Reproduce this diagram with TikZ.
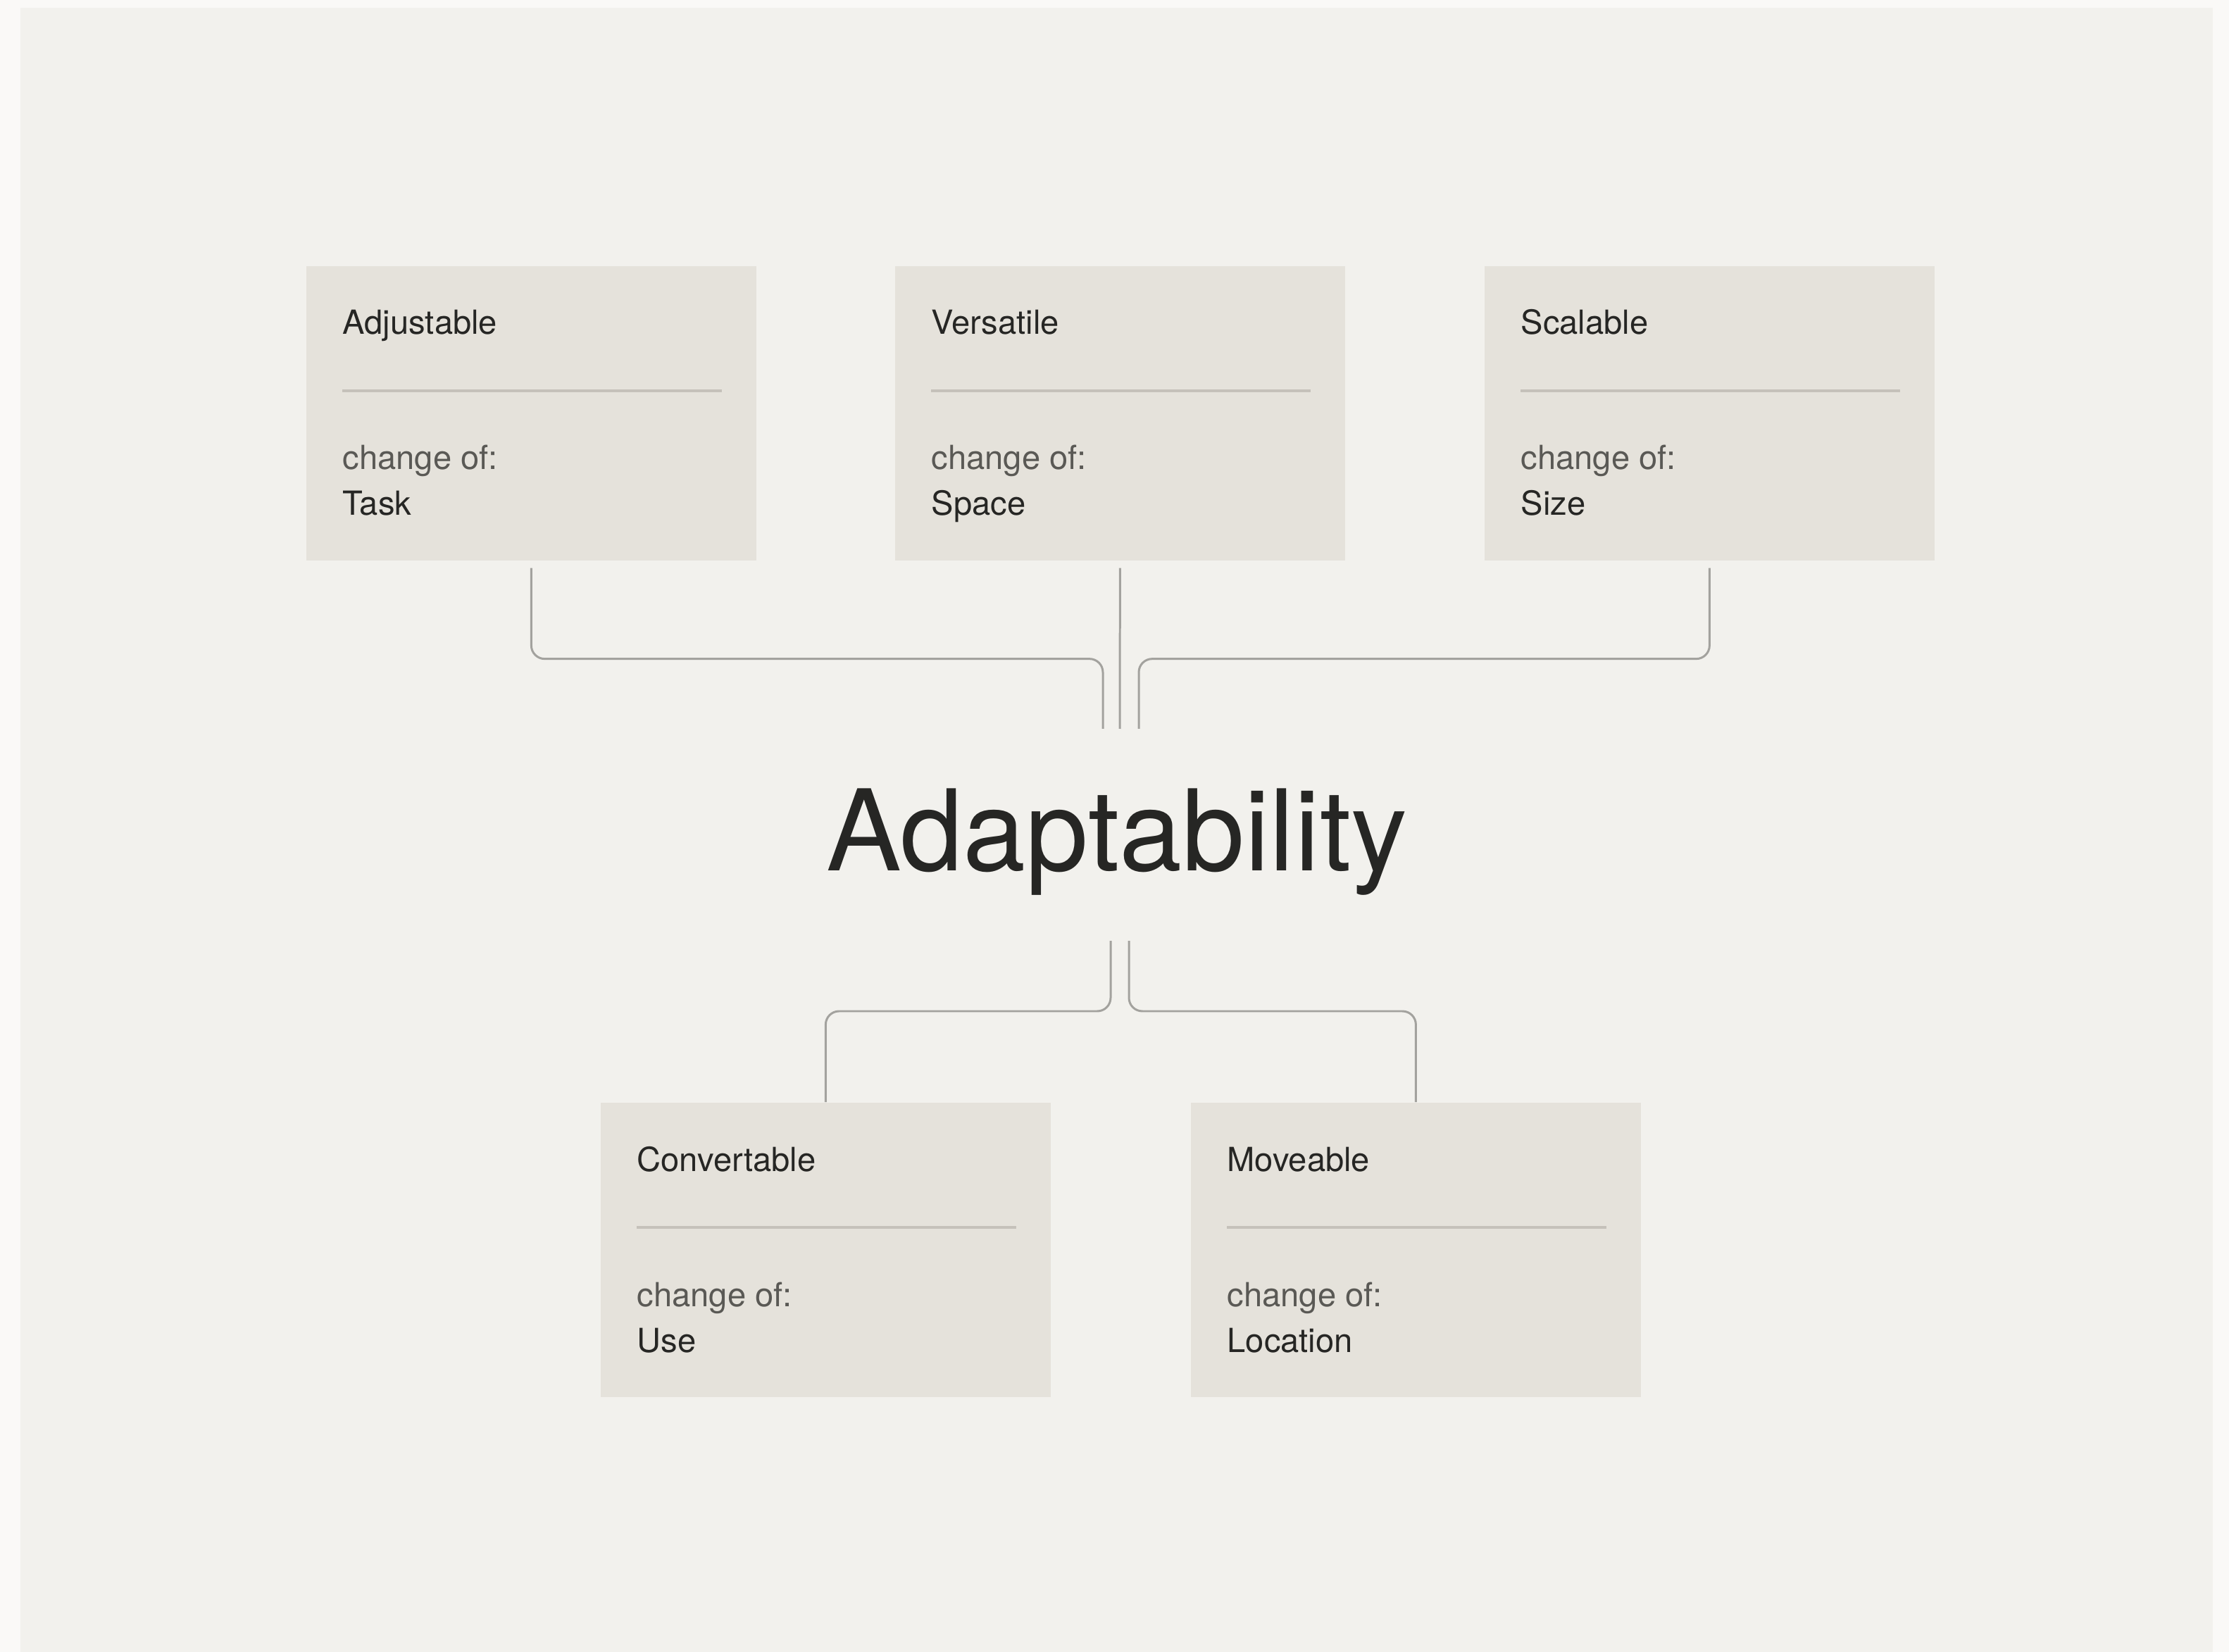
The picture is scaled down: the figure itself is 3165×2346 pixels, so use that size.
\documentclass[tikz,border=0pt]{standalone}
\usepackage{fontspec}
\setmainfont{TeX Gyre Heros}
\usetikzlibrary{calc}

\definecolor{outerbg}{HTML}{FAF9F7}
\definecolor{panelbg}{HTML}{F2F1ED}
\definecolor{cardbg}{HTML}{E5E2DB}
\definecolor{rulegray}{HTML}{C5C1BA}
\definecolor{linkgray}{HTML}{A3A29E}
\definecolor{inkdark}{HTML}{262624}
\definecolor{inkgray}{HTML}{5A5955}

\tikzset{
  card/.style      = {rectangle, fill=cardbg, anchor=north west, inner sep=0pt,
                      minimum width=6.39cm, minimum height=4.18cm},
  cardhead/.style  = {anchor=base west, inner sep=0pt, text=inkdark,
                      font=\fontsize{13.4}{16}\selectfont},
  cardlabel/.style = {cardhead, text=inkgray},
  cardrule/.style  = {draw=rulegray, line width=1.1pt},
  link/.style      = {draw=linkgray, line width=0.85pt, rounded corners=0.19cm},
}

\begin{document}
\begin{tikzpicture}[x=0.01cm, y=-0.01cm]
  % page and panel
  \fill[outerbg] (0,0) rectangle (3165,2346);
  \fill[panelbg] (29,11) rectangle (3142,2346);
  \useasboundingbox (0,0) rectangle (3165,2346);

  % cards
  \foreach \n/\x/\y/\head/\val in {adj/434/377/Adjustable/Task,
                                   ver/1270/377/Versatile/Space,
                                   sca/2107/377/Scalable/Size,
                                   con/852/1565/Convertable/Use,
                                   mov/1690/1565/Moveable/Location}{
    \node[card] (\n) at (\x,\y) {};
    \node[cardhead]  (\n-head) at ($(\n.north west)+(52,98)$)  {\head};
    \draw[cardrule] ($(\n.north west)+(52,178)$) -- ($(\n.north east)+(-50,178)$);
    \node[cardlabel] (\n-of)   at ($(\n.north west)+(52,290)$) {change of:};
    \node[cardhead]  (\n-val)  at ($(\n.north west)+(52,355)$) {\val};
  }

  % title
  \node[anchor=base, inner sep=0pt, text=inkdark,
        font=\fontsize{45.5}{50}\selectfont] (title) at (1586,1237) {Adaptability};

  % loose ends of the links
  \coordinate (tl) at (1566,1035);
  \coordinate (tm) at (1590,1035);
  \coordinate (tr) at (1617,1035);
  \coordinate (bl) at (1577,1336);
  \coordinate (br) at (1603,1336);

  % links
  \draw[link] ($(adj.south)+(0,10)$) -- ++(0,129) -| (tl);
  \draw[link] ($(ver.south)+(0,10)$) -- (tm);
  \draw[link] ($(sca.south)+(0,10)$) -- ++(0,129) -| (tr);
  \draw[link] (bl) -- ++(0,100) -| (con.north);
  \draw[link] (br) -- ++(0,100) -| (mov.north);
\end{tikzpicture}
\end{document}
